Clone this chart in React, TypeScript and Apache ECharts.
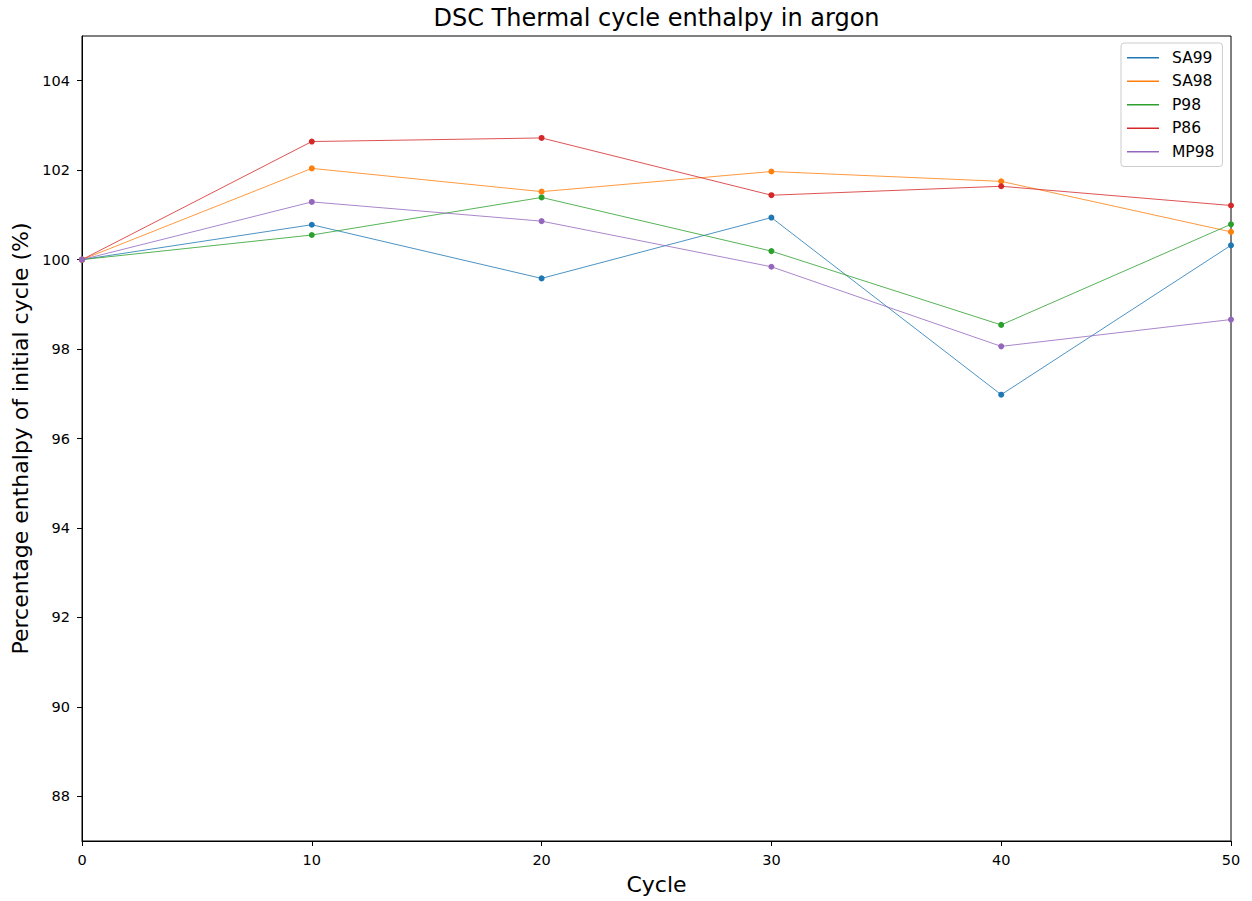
import React, { useEffect, useRef } from "react";
import * as echarts from "echarts";

const cycles = [0, 10, 20, 30, 40, 50];
const seriesNames = ["SA99", "SA98", "P98", "P86", "MP98"];
const colors = ["#1f77b4", "#ff7f0e", "#2ca02c", "#d62728", "#9467bd"];
const sa99 = [100, 100.78, 99.58, 100.94, 96.98, 100.32];
const sa98 = [100, 102.04, 101.52, 101.97, 101.75, 100.62];
const p98 = [100, 100.55, 101.39, 100.19, 98.54, 100.79];
const p86 = [100, 102.64, 102.72, 101.44, 101.64, 101.21];
const mp98 = [100, 101.29, 100.86, 99.84, 98.06, 98.66];
const yTicks = [88, 90, 92, 94, 96, 98, 100, 102, 104];
const xTicks = [0, 10, 20, 30, 40, 50];

const FONT = "DejaVu Sans";

export default function App() {
  const ref = useRef<HTMLDivElement>(null);
  useEffect(() => {
    if (!ref.current) return;
    const chart = echarts.init(ref.current, null, { renderer: "svg" });
    const allData = [sa99, sa98, p98, p86, mp98];
    chart.setOption({
      animation: false,
      textStyle: { fontFamily: FONT },
      grid: {
        left: 82,
        right: 21,
        top: 36,
        bottom: 60,
        show: true,
        borderColor: "#000",
        borderWidth: 1,
        backgroundColor: "transparent",
      },
      graphic: [
        {
          type: "text",
          x: 656.5,
          y: 18,
          style: {
            text: "DSC Thermal cycle enthalpy in argon",
            fontFamily: FONT,
            fontSize: 24,
            fill: "#000",
            textAlign: "center",
            textVerticalAlign: "middle",
          },
        },
      ],
      legend: {
        orient: "vertical",
        left: 1121,
        top: 43,
        padding: [6, 8, 6, 6],
        borderColor: "#cccccc",
        borderWidth: 1,
        borderRadius: 3,
        backgroundColor: "rgba(255,255,255,0.8)",
        itemWidth: 32,
        itemHeight: 1.5,
        itemGap: 6,
        icon: "rect",
        textStyle: { fontFamily: FONT, fontSize: 15.5, color: "#000", lineHeight: 17.5, padding: [0, 0, 0, 8] },
        data: seriesNames,
      },
      xAxis: {
        type: "value",
        min: 0,
        max: 50,
        interval: 10,
        name: "Cycle",
        nameLocation: "middle",
        nameGap: 32,
        nameTextStyle: { fontFamily: FONT, fontSize: 22, color: "#000" },
        axisLine: { show: true, lineStyle: { color: "#000", width: 1 } },
        axisTick: { show: true, inside: false, length: 5, lineStyle: { color: "#000" }, customValues: xTicks },
        axisLabel: { fontFamily: FONT, fontSize: 14.5, color: "#000", margin: 11, customValues: xTicks },
        splitLine: { show: false },
      },
      yAxis: {
        type: "value",
        min: 87,
        max: 105,
        name: "Percentage enthalpy of initial cycle (%)",
        nameLocation: "middle",
        nameGap: 51,
        nameTextStyle: { fontFamily: FONT, fontSize: 22, color: "#000" },
        axisLine: { show: true, lineStyle: { color: "#000", width: 1 } },
        axisTick: { show: true, inside: false, length: 5, lineStyle: { color: "#000" }, customValues: yTicks },
        axisLabel: { fontFamily: FONT, fontSize: 14.5, color: "#000", margin: 12, customValues: yTicks },
        splitLine: { show: false },
      },
      series: seriesNames.map((name, i) => ({
        name,
        type: "line",
        data: cycles.map((c, j) => [c, allData[i][j]]),
        symbol: "circle",
        symbolSize: 6,
        showSymbol: true,
        clip: false,
        lineStyle: { color: colors[i], width: 0.8 },
        itemStyle: { color: colors[i] },
        z: 2 + i,
      })),
    });
    return () => chart.dispose();
  }, []);
  return (
    <div
      ref={ref}
      style={{ position: "fixed", left: 0, top: 0, width: 1252, height: 901, background: "#fff" }}
    />
  );
}
